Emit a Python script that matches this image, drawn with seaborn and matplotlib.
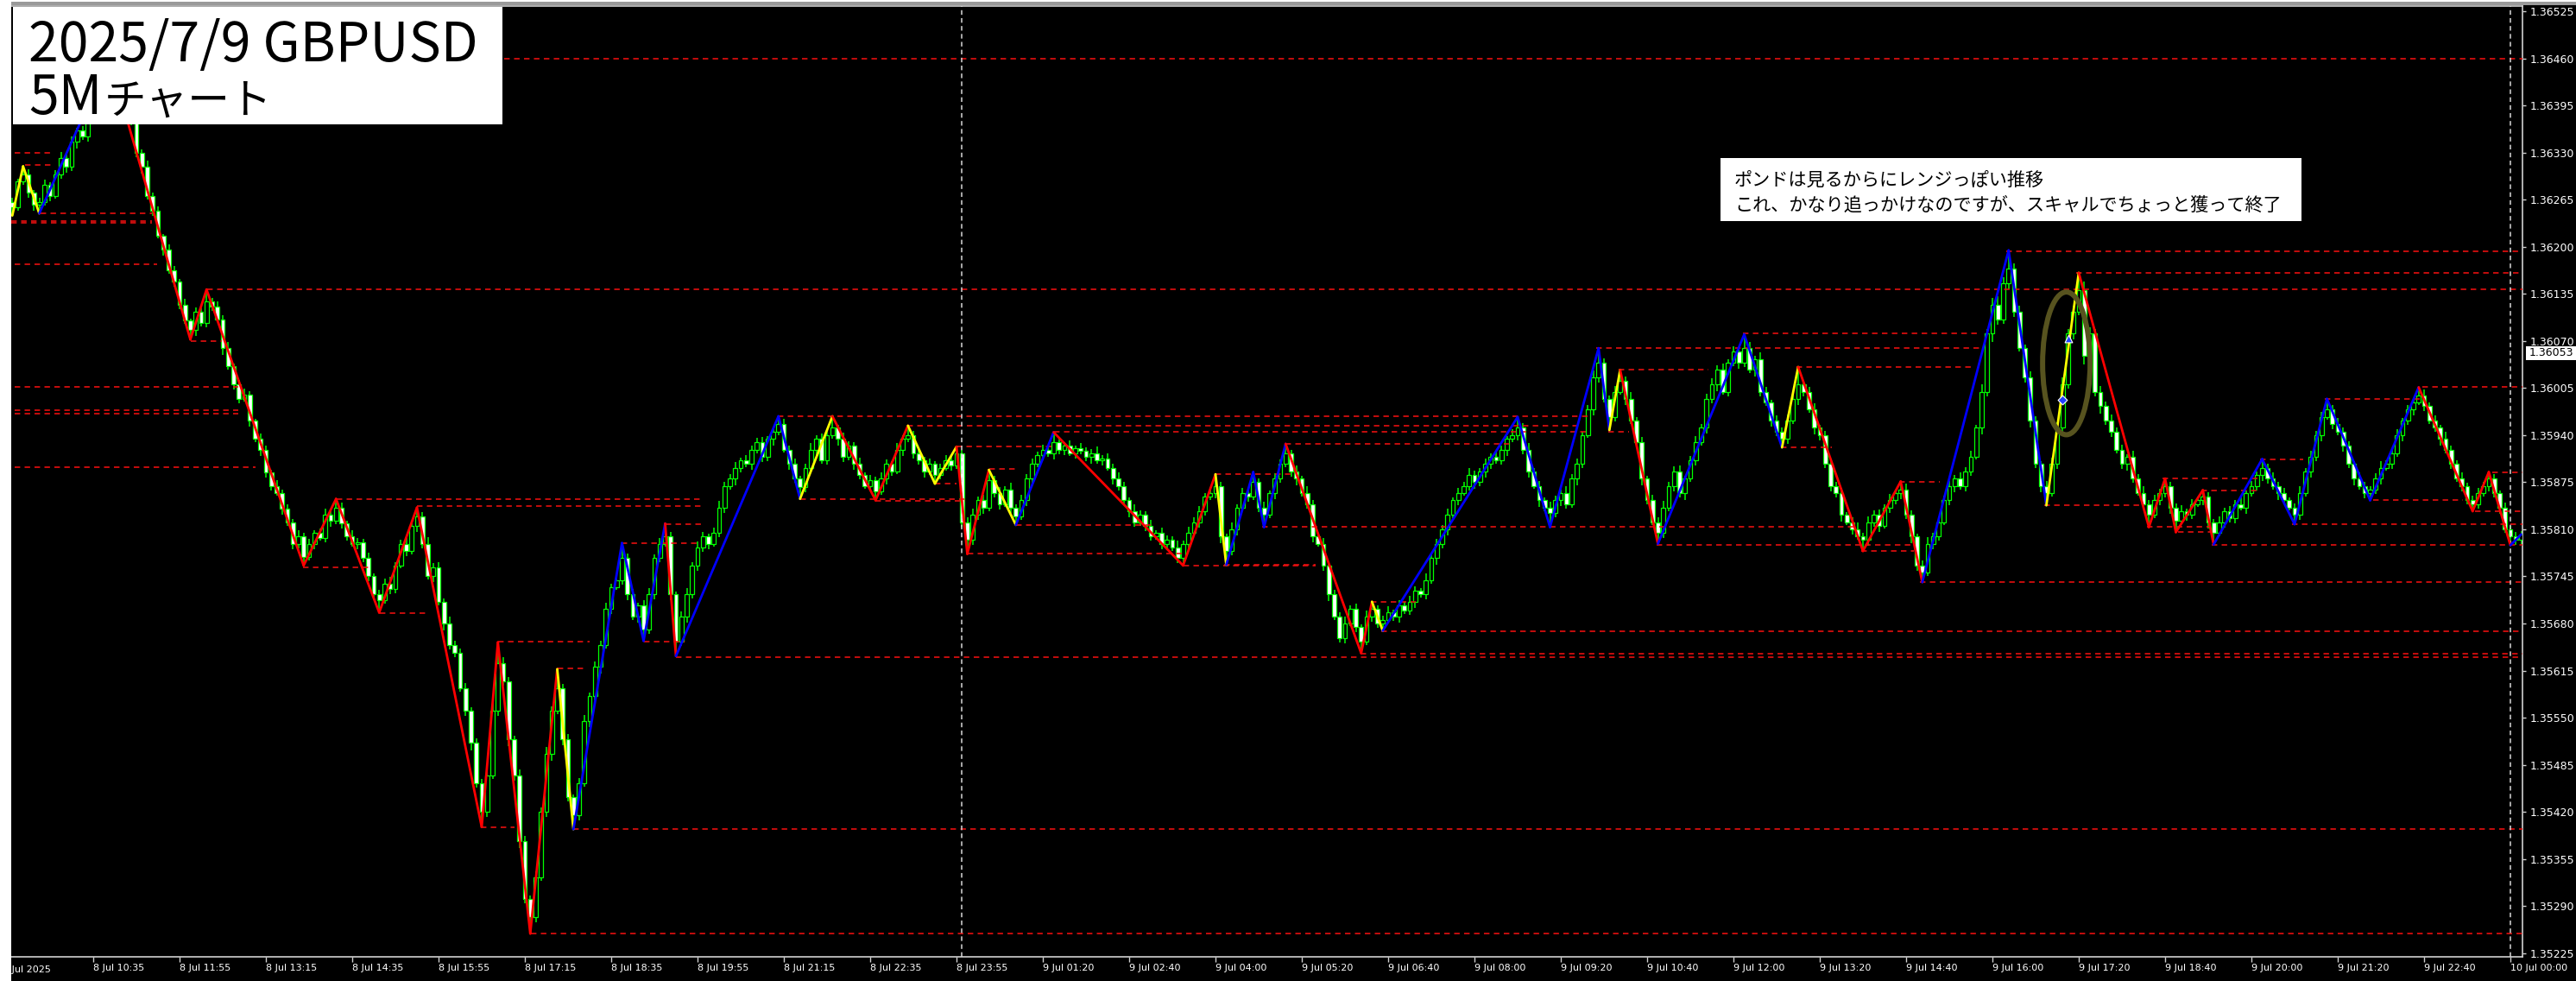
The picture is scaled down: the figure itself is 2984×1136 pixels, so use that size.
import numpy as np
import pandas as pd
import matplotlib
matplotlib.use("Agg")
import matplotlib.pyplot as plt
from matplotlib.patches import Rectangle, Ellipse
import seaborn as sns

# ------------------------------------------------------------------ data
# prices are stored in 1e-5 units above 1.35000 (e.g. 1053 -> 1.36053)
first_open = 1250
close = [
    1262, 1255, 1290, 1300, 1275, 1258, 1262, 1285, 1270, 1300,
    1322, 1310, 1345, 1360, 1352, 1385, 1400, 1395, 1430, 1440,
    1430, 1415, 1380, 1372, 1330, 1310, 1270, 1250, 1215, 1196,
    1168, 1152, 1120, 1098, 1085, 1110, 1095, 1125, 1118, 1100,
    1060, 1035, 1010, 990, 996, 960, 935, 920, 888, 870,
    860, 838, 820, 790, 800, 772, 790, 805, 798, 830,
    822, 840, 818, 800, 790, 792, 770, 745, 720, 712,
    735, 728, 760, 790, 780, 815, 828, 790, 745, 758,
    710, 680, 650, 640, 590, 560, 515, 460, 420, 470,
    560, 625, 600, 520, 470, 380, 300, 275, 330, 420,
    500, 560, 590, 520, 440, 415, 460, 545, 580, 620,
    650, 700, 730, 740, 770, 720, 690, 705, 672, 720,
    770, 790, 800, 720, 655, 690, 720, 760, 785, 800,
    790, 805, 840, 870, 880, 895, 905, 900, 920, 930,
    910, 935, 945, 955, 920, 900, 880, 868, 895, 920,
    935, 905, 940, 950, 935, 910, 925, 900, 885, 870,
    878, 862, 880, 900, 890, 920, 935, 940, 915, 905,
    890, 900, 885, 895, 905, 898, 915, 820, 795, 830,
    850, 840, 878, 860, 845, 865, 840, 828, 850, 880,
    900, 912, 920, 915, 930, 920, 925, 915, 922, 918,
    910, 915, 905, 908, 895, 880, 870, 850, 835, 820,
    830, 815, 800, 805, 790, 795, 785, 770, 790, 805,
    820, 835, 855, 860, 870, 800, 780, 810, 840, 860,
    855, 875, 840, 830, 860, 880, 900, 915, 890, 880,
    860, 845, 800, 790, 760, 720, 690, 660, 680, 700,
    675, 655, 690, 700, 680, 685, 695, 690, 705, 698,
    710, 725, 720, 740, 770, 790, 810, 830, 850, 860,
    870, 885, 875, 890, 900, 910, 905, 920, 935, 940,
    950, 920, 890, 870, 850, 840, 832, 850, 860, 845,
    880, 900, 940, 975, 1020, 1040, 990, 965, 1000, 1015,
    990, 960, 930, 880, 850, 820, 805, 840, 870, 890,
    860, 880, 905, 930, 950, 990, 1010, 1030, 1000, 1040,
    1055, 1040, 1060, 1030, 1045, 1000, 985, 960, 945, 935,
    960, 990, 1010, 1000, 975, 950, 940, 900, 870, 860,
    830, 820, 810, 800, 795, 820, 830, 815, 840, 850,
    860, 865, 830, 800, 760, 750, 790, 800, 820, 850,
    870, 880, 870, 890, 910, 950, 1000, 1080, 1120, 1100,
    1150, 1170, 1110, 1060, 1020, 960, 900, 870, 860, 900,
    950, 1010, 1080, 1110, 1140, 1050, 1080, 1000, 980, 960,
    945, 920, 900, 910, 880, 860, 845, 830, 850, 860,
    870, 840, 822, 835, 830, 845, 850, 855, 820, 805,
    820, 835, 825, 845, 840, 860, 870, 885, 895, 880,
    870, 860, 850, 840, 830, 860, 890, 910, 940, 965,
    975, 955, 945, 925, 900, 880, 870, 860, 865, 880,
    895, 900, 915, 940, 960, 975, 985, 995, 980, 960,
    950, 935, 920, 900, 880, 870, 850, 845, 860, 870,
    880, 860, 840, 810, 800, 795, 803,
]
upper_wick = [
    5, 6, 4, 11, 7, 3, 5, 8, 4, 6,
    9, 5, 7, 4, 6, 8, 5, 7, 3, 20,
    6, 4, 8, 5, 7, 4, 9, 5, 6, 3,
    7, 5, 4, 8, 3, 6, 5, 16, 4, 7,
    5, 9, 4, 6, 8, 5, 3, 7, 6, 4,
    8, 5, 6, 4, 9, 5, 7, 4, 6, 8,
    5, 12, 7, 4, 9, 6, 5, 8, 4, 6,
    7, 9, 5, 6, 8, 4, 12, 6, 9, 5,
    7, 4, 10, 6, 5, 8, 4, 7, 6, 9,
    12, 29, 8, 6, 5, 9, 7, 4, 8, 6,
    9, 5, 27, 6, 8, 4, 7, 9, 5, 8,
    6, 9, 5, 7, 21, 6, 8, 4, 7, 9,
    5, 8, 18, 6, 4, 7, 9, 5, 8, 6,
    4, 7, 9, 5, 6, 8, 4, 7, 5, 6,
    8, 4, 6, 11, 7, 5, 8, 4, 6, 9,
    5, 7, 6, 16, 4, 8, 6, 5, 9, 4,
    7, 5, 8, 6, 4, 9, 5, 13, 6, 7,
    5, 8, 4, 6, 7, 5, 9, 4, 6, 8,
    5, 7, 14, 6, 8, 4, 9, 5, 7, 6,
    8, 5, 7, 4, 14, 6, 5, 8, 4, 7,
    5, 6, 9, 4, 7, 5, 8, 6, 4, 9,
    6, 5, 8, 4, 7, 6, 5, 9, 4, 8,
    6, 7, 5, 8, 16, 6, 4, 9, 5, 7,
    6, 14, 5, 8, 4, 7, 6, 13, 5, 8,
    4, 9, 6, 5, 8, 4, 7, 6, 9, 5,
    7, 4, 8, 10, 5, 6, 9, 4, 7, 5,
    8, 6, 4, 9, 5, 7, 6, 8, 4, 7,
    5, 9, 6, 4, 8, 5, 7, 6, 4, 8,
    15, 6, 9, 5, 7, 4, 8, 6, 5, 9,
    6, 8, 5, 7, 9, 20, 6, 5, 8, 15,
    6, 9, 5, 7, 4, 8, 6, 9, 5, 7,
    8, 4, 6, 9, 5, 7, 8, 6, 9, 5,
    7, 6, 19, 8, 5, 9, 6, 4, 7, 5,
    8, 6, 24, 5, 7, 9, 4, 6, 8, 5,
    7, 4, 6, 9, 5, 8, 6, 7, 4, 9,
    5, 11, 8, 6, 4, 7, 9, 5, 8, 6,
    7, 5, 9, 6, 8, 4, 10, 7, 9, 12,
    8, 25, 7, 9, 5, 8, 6, 4, 7, 9,
    8, 10, 7, 9, 24, 12, 9, 7, 8, 6,
    9, 5, 7, 4, 8, 6, 9, 5, 7, 6,
    10, 5, 6, 8, 4, 7, 5, 9, 6, 4,
    8, 5, 7, 6, 9, 4, 7, 5, 12, 6,
    8, 5, 7, 4, 6, 9, 5, 8, 6, 7,
    15, 6, 9, 5, 7, 4, 8, 6, 5, 7,
    9, 5, 6, 8, 4, 7, 6, 11, 8, 5,
    7, 4, 9, 6, 5, 8, 4, 6, 7, 5,
    9, 6, 4, 7, 5, 6, 4,
]
lower_wick = [
    6, 12, 5, 4, 7, 8, 12, 5, 7, 4,
    6, 8, 5, 9, 4, 7, 5, 8, 6, 4,
    7, 5, 8, 4, 6, 9, 5, 7, 4, 8,
    5, 7, 6, 4, 13, 8, 5, 6, 7, 4,
    9, 5, 7, 6, 4, 8, 5, 9, 6, 7,
    4, 8, 5, 7, 6, 12, 5, 8, 4, 6,
    9, 5, 7, 6, 4, 8, 5, 7, 6, 17,
    5, 8, 6, 4, 7, 5, 9, 6, 4, 8,
    5, 9, 6, 7, 4, 8, 10, 6, 21, 7,
    5, 8, 6, 9, 7, 10, 6, 23, 8, 5,
    7, 9, 5, 8, 6, 19, 7, 5, 8, 6,
    9, 5, 7, 4, 6, 8, 5, 9, 16, 6,
    7, 5, 4, 8, 20, 6, 9, 5, 7, 6,
    8, 4, 6, 7, 5, 9, 6, 4, 8, 5,
    7, 6, 9, 5, 4, 8, 6, 16, 7, 5,
    8, 4, 6, 5, 9, 7, 5, 8, 6, 4,
    7, 12, 5, 8, 6, 4, 9, 5, 7, 6,
    8, 5, 12, 6, 4, 7, 5, 8, 19, 6,
    7, 9, 5, 6, 8, 4, 7, 12, 5, 8,
    6, 4, 7, 5, 9, 6, 8, 4, 7, 5,
    6, 9, 5, 7, 4, 8, 6, 5, 9, 7,
    5, 8, 6, 4, 7, 9, 5, 6, 10, 7,
    5, 8, 6, 4, 7, 9, 19, 6, 8, 5,
    7, 4, 6, 17, 5, 8, 6, 4, 7, 9,
    5, 6, 8, 4, 7, 9, 5, 6, 8, 4,
    7, 16, 5, 8, 6, 10, 4, 7, 9, 5,
    6, 8, 4, 7, 5, 9, 6, 8, 5, 7,
    4, 6, 9, 5, 8, 7, 4, 6, 9, 5,
    7, 6, 8, 4, 9, 5, 19, 6, 8, 7,
    5, 9, 6, 4, 8, 7, 5, 18, 6, 4,
    8, 5, 7, 9, 6, 4, 15, 7, 5, 8,
    6, 9, 4, 7, 5, 8, 6, 9, 4, 7,
    5, 8, 6, 4, 9, 7, 5, 8, 6, 12,
    7, 5, 8, 6, 4, 9, 7, 5, 8, 6,
    9, 4, 7, 5, 15, 8, 6, 9, 4, 7,
    5, 8, 6, 9, 7, 13, 5, 8, 6, 4,
    7, 9, 5, 8, 6, 4, 9, 7, 12, 8,
    6, 9, 7, 5, 8, 10, 6, 9, 17, 5,
    7, 9, 6, 8, 5, 12, 9, 7, 10, 6,
    8, 5, 7, 9, 6, 4, 8, 17, 5, 7,
    6, 9, 16, 5, 8, 6, 4, 7, 9, 16,
    5, 8, 6, 7, 4, 9, 5, 6, 8, 7,
    5, 9, 6, 4, 13, 7, 5, 8, 6, 9,
    4, 7, 5, 8, 6, 9, 5, 7, 10, 6,
    8, 4, 7, 5, 9, 6, 8, 4, 7, 5,
    6, 9, 5, 7, 4, 8, 6, 10, 7, 5,
    8, 6, 9, 5, 12, 7, 6,
]

# zigzag pivots (bar index, price) and colour of each leg
zz_bar = [1, 3, 6, 19, 34, 37, 55, 61, 69, 76, 88, 91, 97, 102, 105, 114, 118, 122,
          124, 143, 147, 153, 161, 167, 172, 176, 178, 182, 187, 194, 218, 224, 226,
          231, 233, 237, 251, 253, 255, 280, 286, 295, 297, 299, 306, 322, 329, 332,
          344, 351, 355, 371, 378, 384, 397, 400, 402, 407, 409, 418, 424, 430, 438,
          447, 457, 460, 464, 466]
zz_price = [1243, 1311, 1246, 1460, 1072, 1141, 760, 852, 695, 840, 399, 654, 252, 617,
            396, 791, 656, 818, 635, 966, 852, 966, 850, 953, 873, 924, 776, 892, 816,
            944, 760, 886, 761, 889, 813, 928, 639, 710, 670, 965, 813, 1060, 947, 1030,
            790, 1079, 923, 1034, 780, 876, 737, 1195, 843, 1164, 813, 880, 806, 864,
            789, 907, 817, 990, 850, 1006, 835, 889, 788, 803]
zz_leg = list("YYBRRRRRRRRRRYBBBRBBYRRYYRRYBRRYBBBRRYBBBBYRBBYRRRBBYRRRRRBBBBBRRRB")

# horizontal support / resistance levels (price, first bar, last bar)
lvl_price = [1460, 1330, 1313, 1246, 1236, 1233, 1176, 1141, 1070, 1007,
             974, 970, 896, 852, 842, 758, 694, 655, 618, 399,
             396, 252, 791, 817, 655, 634, 966, 953, 944, 928,
             924, 893, 873, 852, 849, 816, 776, 886, 760, 761,
             813, 669, 638, 710, 1080, 1060, 1030, 1034, 945, 788,
             780, 923, 876, 737, 1194, 1164, 843, 813, 880, 806,
             864, 789, 907, 817, 990, 850, 1006, 835, 889]
lvl_from = [18.6, 1.4, 3.4, 6.2, 0.8, 0.8, 1.4, 37.1, 34, 1.4,
            1.4, 1.4, 1.4, 61.1, 76, 54.9, 69.1, 91, 102, 87.8,
            105, 97.1, 113.9, 122, 118, 124, 142.9, 166.9, 194, 237,
            176, 182, 172, 147, 161, 187, 178, 224, 218, 225.6,
            232.6, 254.7, 250.9, 252.8, 321.8, 294.6, 298.7, 331.7, 296.8, 305.8,
            343.7, 328.8, 350.7, 354.6, 370.6, 383.5, 377.6, 396.6, 399.5, 402.4,
            406.7, 408.6, 417.6, 423.5, 429.6, 438.6, 447.7, 457.4, 460.6]
lvl_to = [467, 8.3, 8.3, 26.9, 26.9, 26.9, 27.8, 467, 39.8, 42.9,
          42.9, 42.9, 46.1, 128.8, 128.8, 67.7, 77.8, 108, 107.4, 94.1,
          467, 467, 128, 128.8, 125.6, 467, 293.3, 291.7, 293, 278.9,
          194, 187.4, 176, 177.6, 177.6, 212.5, 218, 238.7, 242.6, 242.6,
          342.6, 467, 467, 261.1, 365.6, 365.6, 315.4, 364.8, 300.6, 353.4,
          353.4, 338.2, 358.2, 467, 467, 467, 395.2, 408.5, 417.1, 408.5,
          417.4, 467, 425.6, 467, 447.5, 455.2, 467, 467, 467]

xtick_bar = [16, 32, 48, 64, 80, 96, 112, 128, 144, 160, 176, 192, 208, 224, 240,
             256, 272, 288, 304, 320, 336, 352, 368, 384, 400, 416, 432, 448, 464]
xtick_label = ["8 Jul 10:35", "8 Jul 11:55", "8 Jul 13:15", "8 Jul 14:35", "8 Jul 15:55",
               "8 Jul 17:15", "8 Jul 18:35", "8 Jul 19:55", "8 Jul 21:15", "8 Jul 22:35",
               "8 Jul 23:55", "9 Jul 01:20", "9 Jul 02:40", "9 Jul 04:00", "9 Jul 05:20",
               "9 Jul 06:40", "9 Jul 08:00", "9 Jul 09:20", "9 Jul 10:40", "9 Jul 12:00",
               "9 Jul 13:20", "9 Jul 14:40", "9 Jul 16:00", "9 Jul 17:20", "9 Jul 18:40",
               "9 Jul 20:00", "9 Jul 21:20", "9 Jul 22:40", "10 Jul 00:00"]
first_xlabel = "8 Jul 2025"
ytick_price = [1525, 1460, 1395, 1330, 1265, 1200, 1135, 1070, 1005, 940, 875,
               810, 745, 680, 615, 550, 485, 420, 355, 290, 225]
ytick_label = ["1.36525", "1.36460", "1.36395", "1.36330", "1.36265", "1.36200",
               "1.36135", "1.36070", "1.36005", "1.35940", "1.35875", "1.35810",
               "1.35745", "1.35680", "1.35615", "1.35550", "1.35485", "1.35420",
               "1.35355", "1.35290", "1.35225"]
current_price = 1053
current_label = "1.36053"
separator_bar = [177, 464]
trade_marks_bar = [381, 382.1]
trade_marks_price = [989, 1073]
ellipse_bar, ellipse_price = 381.7, 1039
title_line1 = "2025/7/9 GBPUSD"
title_line2_a, title_line2_b = "5M", "チャート"
note_lines = ["ポンドは見るからにレンジっぽい推移",
              "これ、かなり追っかけなのですが、スキャルでちょっと獲って終了"]

# ------------------------------------------------------------------ figure
W, H, DPI = 2984, 1136, 100
sns.set_style("dark")
plt.rcParams["font.family"] = ["DejaVu Sans", "Noto Sans CJK JP"]
CJK = ["Noto Sans CJK JP", "DejaVu Sans"]

fig = plt.figure(figsize=(W / DPI, H / DPI), dpi=DPI, facecolor="white")


def fx(x):
    return x / W


def fy(y):
    return 1 - y / H


def frect(x0, y0, x1, y1, **kw):
    r = Rectangle((fx(x0), fy(y1)), (x1 - x0) / W, (y1 - y0) / H,
                  transform=fig.transFigure, **kw)
    fig.add_artist(r)
    return r


# black chart window + grey top strip
frect(13, 6, W, H, facecolor="black", edgecolor="none", zorder=-5)
frect(13, 2, W, 6, facecolor="#9a9a9a", edgecolor="none", zorder=-4)

ax = fig.add_axes([fx(13), fy(1108), (2922 - 13) / W, (1108 - 7) / H])
ax.set_facecolor("black")

df = pd.DataFrame({"close": close, "uw": upper_wick, "lw": lower_wick})
df["bar"] = np.arange(len(df))
df["open"] = [first_open] + close[:-1]
df["top"] = df[["open", "close"]].max(axis=1)
df["bot"] = df[["open", "close"]].min(axis=1)
df["high"] = df["top"] + df["uw"]
df["low"] = df["bot"] - df["lw"]

LIME = "#00ff00"
ax.vlines(df["bar"], df["low"], df["high"], color=LIME, lw=1.1, zorder=2)
bull = df["close"] >= df["open"]
ax.bar(df["bar"][bull], (df["top"] - df["bot"])[bull], bottom=df["bot"][bull],
       width=0.74, color="black", edgecolor=LIME, linewidth=0.9, zorder=3)
ax.bar(df["bar"][~bull], (df["top"] - df["bot"])[~bull], bottom=df["bot"][~bull],
       width=0.74, color="white", edgecolor=LIME, linewidth=0.9, zorder=3)

# level lines
ax.hlines(lvl_price, lvl_from, lvl_to, colors="#f01010", linestyles=(0, (4, 3.2)),
          lw=1.15, zorder=4)

# day separators
for b in separator_bar:
    ax.axvline(b, color="#d8d8d8", lw=1.1, ls=(0, (3.5, 2.5)), zorder=4)

# zigzag
leg_colors = {"Y": "#ffff00", "B": "#0000ff", "R": "#ff0000"}
for k, c in enumerate(zz_leg):
    seg = pd.DataFrame({"bar": zz_bar[k:k + 2], "price": zz_price[k:k + 2]})
    sns.lineplot(data=seg, x="bar", y="price", color=leg_colors[c], lw=2.0,
                 estimator=None, sort=False, ax=ax, legend=False, zorder=5)

# trade markers and ellipse
ax.scatter(trade_marks_bar[:1], trade_marks_price[:1], marker="D", s=30,
           color="#2040ff", edgecolors="white", linewidths=0.8, zorder=6)
ax.scatter(trade_marks_bar[1:], trade_marks_price[1:], marker="^", s=40,
           color="#2040ff", edgecolors="white", linewidths=0.8, zorder=6)
ax.add_patch(Ellipse((ellipse_bar, ellipse_price), width=8.8, height=197, fill=False,
                     edgecolor="#57531f", lw=4.3, zorder=7))

ax.set_xlim(0.8, 466.24)
ax.set_ylim(219.9, 1532.2)
ax.set_xlabel("")
ax.set_ylabel("")
ax.grid(False)

# axes frame like MT4
for s in ["top", "right", "bottom"]:
    ax.spines[s].set_visible(True)
    ax.spines[s].set_color("#d0d0d0")
    ax.spines[s].set_linewidth(1.2)
ax.spines["left"].set_visible(False)

ax.yaxis.tick_right()
ax.set_yticks(ytick_price)
ax.set_yticklabels(ytick_label)
ax.set_xticks(xtick_bar)
ax.set_xticklabels(xtick_label, ha="left")
ax.tick_params(axis="y", right=True, left=False, labelright=True, labelleft=False,
               colors="#d0d0d0", labelcolor="white", length=3, width=1, pad=3,
               labelsize=9)
ax.tick_params(axis="x", bottom=True, top=False, colors="#d0d0d0", labelcolor="white",
               length=4, width=1, pad=2, labelsize=8)

# first (clipped) time label, covered at the left by the window frame
fig.text(fx(3.4), fy(1123), first_xlabel, color="white", fontsize=8, va="center",
         ha="left", zorder=3)
frect(0, 0, 13, H, facecolor="white", edgecolor="none", zorder=9)

# current price box
frect(2926, 401, W, 417, facecolor="white", edgecolor="none", zorder=8)
fig.text(fx(2930), fy(409), current_label, color="black", fontsize=9, va="center",
         ha="left", zorder=9)

# title box
frect(15, 8, 582, 144, facecolor="white", edgecolor="none", zorder=8)
fig.text(fx(33), fy(71), title_line1, family=CJK, fontsize=45, color="black",
         va="baseline", ha="left", zorder=9)
t5m = fig.text(fx(33), fy(132), title_line2_a, family=CJK, fontsize=45, color="black",
               va="baseline", ha="left", zorder=9)
renderer = fig.canvas.get_renderer()
bb = t5m.get_window_extent(renderer=renderer)
fig.text((bb.x1 + 2) / W, fy(132), title_line2_b, family=CJK, fontsize=35,
         color="black", va="baseline", ha="left", zorder=9)

# note box
frect(1993, 183, 2666, 256, facecolor="white", edgecolor="none", zorder=8)
fig.text(fx(2009), fy(209), note_lines[0], family=CJK, fontsize=15.2, color="black",
         va="center", ha="left", zorder=9)
fig.text(fx(2009), fy(238), note_lines[1], family=CJK, fontsize=15.2, color="black",
         va="center", ha="left", zorder=9)

fig.savefig("out.png", dpi=DPI, facecolor=fig.get_facecolor())
